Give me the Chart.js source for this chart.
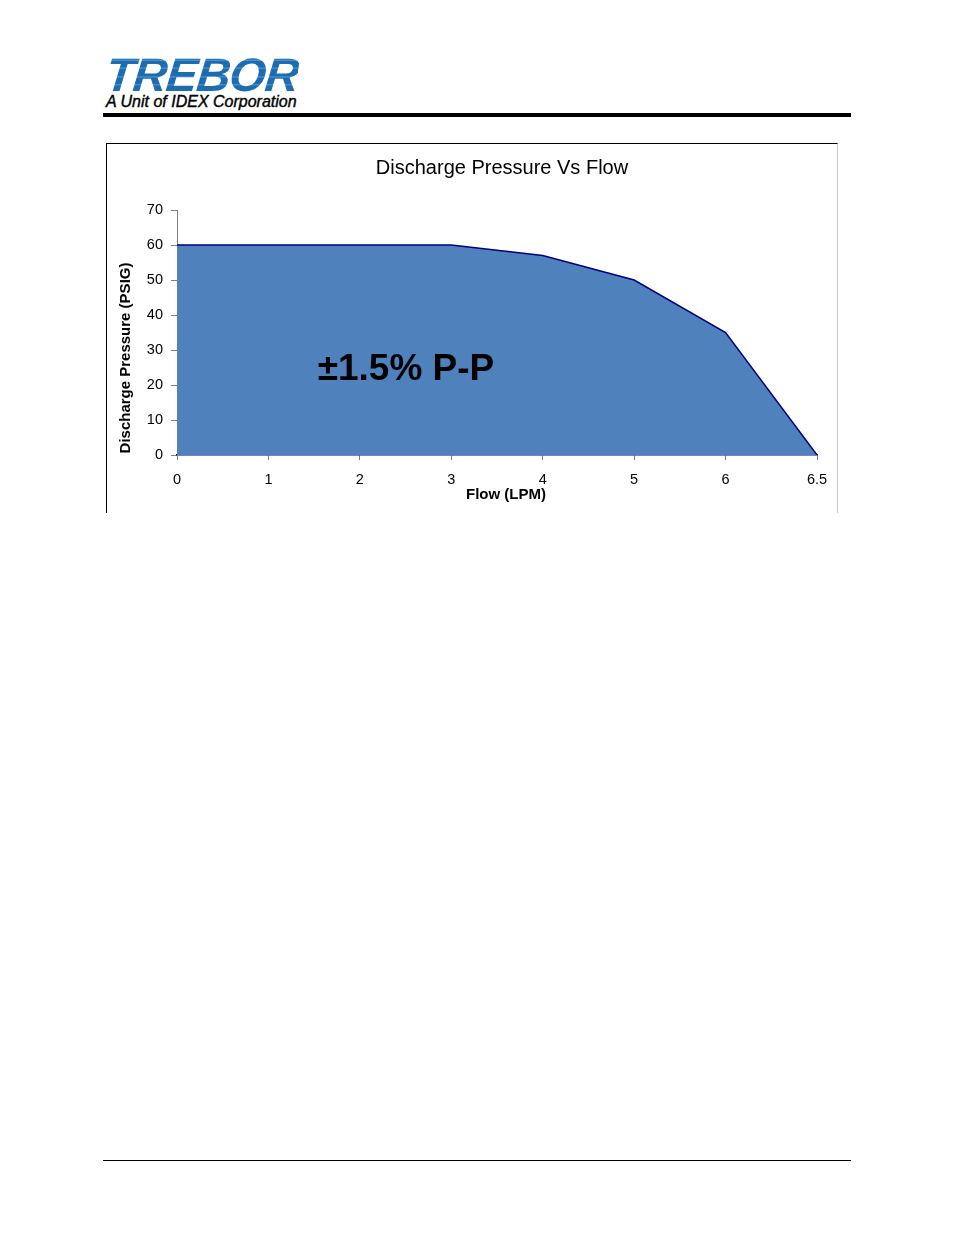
<!DOCTYPE html>
<html>
<head>
<meta charset="utf-8">
<script src="https://cdn.jsdelivr.net/npm/chart.js@4.4.1/dist/chart.umd.min.js"></script>
<style>
  body { margin: 0; background: #fff; width: 954px; height: 1235px; position: relative; font-family: Arial, "Liberation Sans", sans-serif; }
  .logo { position: absolute; left: 103px; top: 47px; font: italic 900 47px "Liberation Sans", Arial, sans-serif; letter-spacing: -1px;
          color: #1c6cb2; transform: skewX(-6deg); transform-origin: left bottom;
          background: repeating-linear-gradient(180deg, #1c6cb2 0 5px, #5a9ad4 5px 6px, #1c6cb2 6px 8px);
          -webkit-background-clip: text; background-clip: text; -webkit-text-fill-color: transparent; }
  .sub { position: absolute; left: 106px; top: 93px; font: italic 16px "Liberation Sans", Arial, sans-serif; letter-spacing: 0px; color: #000; -webkit-text-stroke: 0.4px #000; }
  .rule-top { position: absolute; left: 103px; top: 113px; width: 748px; height: 4px; background: #000; }
  .rule-bot { position: absolute; left: 103px; top: 1160px; width: 748px; height: 1px; background: #000; }
  .box { position: absolute; left: 106px; top: 143px; width: 730px; height: 369px; border-left: 1px solid #000; border-top: 1px solid #000; border-right: 1px solid #c8c8c8; }
  #wrap { position: absolute; left: 107px; top: 144px; width: 729px; height: 368px; }
</style>
</head>
<body>
<div class="logo">TREBOR</div>
<div class="sub">A Unit of IDEX Corporation</div>
<div class="rule-top"></div>
<div class="box"></div>
<div id="wrap"><canvas id="grafico"></canvas></div>
<div class="rule-bot"></div>
<script>
  // datos
  const etiquetasFlujo = ['0', '1', '2', '3', '4', '5', '6', '6.5'];
  const presion = [60, 60, 60, 60, 57, 50, 35, 0];
  const ticksPresion = [0, 10, 20, 30, 40, 50, 60, 70];
  const tituloGrafico = 'Discharge Pressure Vs Flow';
  const tituloX = 'Flow (LPM)';
  const tituloY = 'Discharge Pressure (PSIG)';
  const nota = '\u00b11.5% P-P';

  const textos = {
    id: 'textos',
    afterDraw(chart) {
      const ctx = chart.ctx;
      ctx.save();
      ctx.fillStyle = '#000';
      ctx.textAlign = 'center';
      ctx.textBaseline = 'middle';
      ctx.font = '20px Arial, "Liberation Sans", sans-serif';
      ctx.fillText(tituloGrafico, 395, 24);
      ctx.font = 'bold 15px Arial, "Liberation Sans", sans-serif';
      ctx.fillText(tituloX, 399, 351);
      ctx.font = 'bold 37px Arial, "Liberation Sans", sans-serif';
      ctx.fillText(nota, 299, 226);
      ctx.translate(19, 214);
      ctx.rotate(-Math.PI / 2);
      ctx.font = 'bold 15px Arial, "Liberation Sans", sans-serif';
      ctx.fillText(tituloY, 0, 0);
      ctx.restore();
    }
  };

  new Chart(document.getElementById('grafico'), {
    type: 'line',
    data: {
      labels: etiquetasFlujo,
      datasets: [{
        data: presion,
        fill: 'origin',
        backgroundColor: '#4f81bd',
        borderColor: '#000080',
        borderWidth: 1.5,
        pointRadius: 0,
        tension: 0
      }]
    },
    options: {
      responsive: true,
      maintainAspectRatio: false,
      animation: false,
      layout: { padding: { top: 66, right: 19, left: 0, bottom: 0 } },
      plugins: { legend: { display: false }, tooltip: { enabled: false }, title: { display: false } },
      scales: {
        x: {
          type: 'category',
          offset: false,
          grid: { display: true, drawOnChartArea: false, drawTicks: true, tickLength: 5, color: '#808080' },
          border: { display: true, color: '#000080', width: 1.5 },
          ticks: { color: '#000', font: { size: 14.5, family: 'Arial' }, padding: 11, maxRotation: 0, autoSkip: false },
          afterFit(scale) { scale.height = 57; scale.paddingLeft = 0; scale.paddingRight = 0; }
        },
        y: {
          min: 0, max: 70,
          afterBuildTicks(scale) { scale.ticks = ticksPresion.map(v => ({ value: v })); },
          grid: { display: true, drawOnChartArea: false, drawTicks: true, tickLength: 6, color: '#808080' },
          border: { display: true, color: '#808080', width: 1 },
          ticks: { color: '#000', font: { size: 14.5, family: 'Arial' }, padding: 8 },
          afterFit(scale) { scale.width = 70; }
        }
      }
    },
    plugins: [textos]
  });
</script>
</body>
</html>
